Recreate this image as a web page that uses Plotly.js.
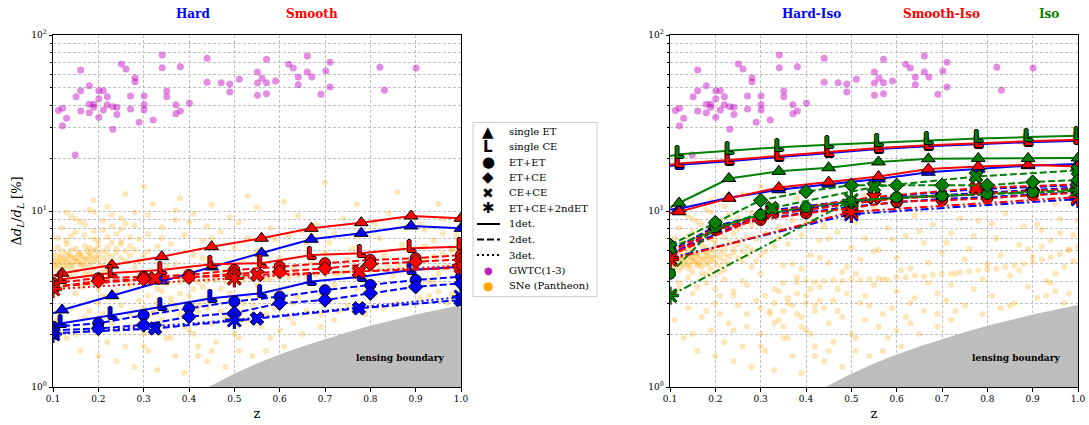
<!DOCTYPE html>
<html><head><meta charset="utf-8">
<script src="https://cdn.plot.ly/plotly-3.0.1.min.js"></script>
<style>html,body{margin:0;padding:0;background:#fff}</style>
</head><body><div id="chart" style="width:1089px;height:425px"></div>
<script>
// ---------------- DATA ----------------
const zSingle = [0.1, 0.12, 0.23, 0.34, 0.45, 0.56, 0.67, 0.78, 0.89, 1.0];
const zPair   = [0.1, 0.2, 0.3, 0.4, 0.5, 0.6, 0.7, 0.8, 0.9, 1.0];
const zCECE   = [0.1, 0.325, 0.55, 0.775, 1.0];
const zTriple = [0.1, 0.5, 1.0];
const xTickText = ['0.1','0.2','0.3','0.4','0.5','0.6','0.7','0.8','0.9','1.0'];

// Hard (left, blue)
const hardET = [2.62, 2.74, 3.30, 4.00, 4.81, 5.77, 6.91, 7.47, 8.22, 7.97];
const hardCE = [2.20, 2.30, 2.56, 2.86, 3.19, 3.41, 3.97, 4.23, 4.62, 4.83];
const hardEE = [2.20, 2.30, 2.56, 2.80, 3.06, 3.26, 3.55, 3.80, 4.06, 4.23];
const hardEC = [2.10, 2.15, 2.25, 2.51, 2.63, 2.99, 3.12, 3.41, 3.71, 3.88];
const hardCC = [2.02, 2.15, 2.45, 2.80, 3.12];
const hardT3 = [2.00, 2.40, 3.25];
// Smooth (left, red)
const smoothET = [4.30, 4.43, 4.93, 5.50, 6.27, 7.00, 7.97, 8.58, 9.37, 9.09];
const smoothCE = [3.95, 4.10, 4.44, 4.62, 4.98, 5.05, 5.62, 5.75, 6.14, 6.27];
const smoothEE = [3.90, 4.15, 4.23, 4.33, 4.62, 4.83, 5.05, 5.27, 5.39, 5.62];
const smoothEC = [3.70, 4.00, 4.10, 4.20, 4.40, 4.52, 4.72, 5.00, 5.15, 5.30];
const smoothCC = [3.70, 4.15, 4.33, 4.52, 4.75];
const smoothT3 = [3.60, 4.15, 4.90];
// Hard-Iso (right, blue)
const hardIsoET = [10.2, 10.3, 11.9, 13.2, 14.2, 15.2, 16.6, 17.3, 18.1, 18.5];
const hardIsoCE = [18.0, 18.3, 19.2, 20.2, 21.3, 22.5, 23.3, 24.0, 24.6, 25.1];
const hardIsoEE = [5.6, 7.9, 9.0, 9.8, 10.6, 11.2, 11.7, 12.0, 12.4, 12.8];
const hardIsoEC = [5.9, 8.2, 9.5, 10.3, 11.2, 11.9, 12.3, 12.8, 13.2, 13.6];
const hardIsoCC = [5.7, 10.1, 11.9, 13.3, 14.0];
const hardIsoT3 = [5.4, 9.6, 11.7];
// Smooth-Iso (right, red)
const smoothIsoET = [9.7, 9.9, 11.8, 13.6, 14.6, 15.7, 17.3, 17.9, 18.3, 17.9];
const smoothIsoCE = [18.3, 18.6, 19.5, 20.5, 21.6, 22.8, 23.6, 24.3, 24.9, 25.4];
const smoothIsoEE = [5.5, 7.8, 8.9, 9.7, 10.4, 11.3, 11.5, 11.8, 12.3, 12.7];
const smoothIsoEC = [5.8, 8.0, 9.3, 10.1, 11.0, 11.8, 12.1, 12.6, 13.0, 13.4];
const smoothIsoCC = [5.6, 9.9, 12.0, 13.5, 14.2];
const smoothIsoT3 = [5.3, 9.9, 12.0];
// Iso (right, green)
const isoET = [10.5, 11.1, 15.3, 16.8, 17.6, 19.0, 19.8, 19.9, 19.9, 20.0];
const isoCE = [20.5, 21.0, 22.0, 23.0, 23.8, 24.5, 25.2, 25.8, 26.3, 26.8];
const isoEE = [4.4, 8.1, 9.5, 10.5, 11.3, 12.0, 12.2, 12.5, 12.8, 13.0];
const isoEC = [6.4, 8.6, 11.5, 12.9, 14.0, 14.0, 14.0, 14.0, 14.6, 15.0];
const isoCC = [6.2, 10.4, 13.7, 15.7, 17.0];
const isoT3 = [3.3, 11.5, 13.2];

// lensing boundary
const lensZ   = [0.44, 0.45, 0.50, 0.55, 0.60, 0.65, 0.70, 0.75, 0.80, 0.85, 0.90, 0.95, 1.00];
const lensErr = [0.99, 1.02, 1.19, 1.36, 1.53, 1.70, 1.87, 2.05, 2.23, 2.40, 2.58, 2.75, 2.92];

// GWTC(1-3)
const gwZ = [0.112,0.121,0.121,0.130,0.151,0.161,0.161,0.161,0.180,0.180,
             0.180,0.190,0.190,0.201,0.201,0.201,0.211,0.211,0.220,0.220,
             0.232,0.232,0.241,0.241,0.251,0.261,0.271,0.271,0.281,0.281,
             0.290,0.301,0.301,0.301,0.321,0.341,0.341,0.351,0.351,0.371,
             0.371,0.381,0.381,0.401,0.440,0.440,0.471,0.490,0.490,0.511,
             0.551,0.551,0.551,0.561,0.571,0.571,0.571,0.591,0.620,0.630,
             0.641,0.641,0.661,0.661,0.671,0.691,0.702,0.711,0.711,0.821,
             0.831,0.901,0.149];
const gwErr = [37.2,38.3,30.5,33.6,44.6,63.2,48.3,37.0,51.5,40.4,
               36.2,40.4,38.8,48.3,43.5,34.1,48.3,37.5,44.6,40.2,
               39.1,29.1,38.8,35.3,68.4,64.1,45.0,38.0,57.2,54.3,
               31.9,45.0,40.2,37.5,32.9,76.9,65.2,48.1,44.6,40.2,
               35.7,66.0,37.0,40.9,73.7,53.9,53.6,52.7,47.4,56.0,
               61.6,53.4,45.4,56.7,72.8,53.6,46.4,54.8,68.2,64.9,
               57.7,52.2,76.0,61.6,57.7,46.0,62.4,70.0,50.6,65.5,
               48.5,64.9,20.8];

// SNe (Pantheon) - groups
const snBandZ = [0.10,0.10,0.11,0.11,0.11,0.12,0.12,0.12,0.13,0.13,
                 0.13,0.14,0.14,0.14,0.15,0.15,0.15,0.16,0.16,0.16,
                 0.17,0.17,0.17,0.18,0.18,0.18,0.19,0.19,0.19,0.20,
                 0.20,0.20,0.21,0.21,0.21,0.22,0.22,0.22,0.23,0.23,
                 0.23,0.24,0.24,0.25,0.25,0.26,0.26,0.27,0.27,0.28,
                 0.10,0.12,0.14,0.16,0.18,0.20,0.22,0.24,0.13,0.15,
                 0.17,0.19,0.21,0.11,0.10,
                 0.105,0.115,0.125,0.135,0.145,0.155,0.165,0.175,0.185,0.195,
                 0.105,0.115,0.125,0.135,0.145,0.155,0.165,0.175,0.185,0.195];
const snBandErr = [5.0,5.4,4.8,5.6,5.2,4.6,5.1,5.9,5.3,4.9,
                   5.7,5.0,5.5,4.7,5.2,6.1,5.4,4.9,5.6,5.1,
                   5.3,6.3,4.8,5.5,5.0,5.8,5.3,6.0,4.7,5.6,
                   5.1,6.4,5.4,5.9,4.9,5.7,6.2,5.2,5.5,6.6,
                   5.0,5.8,6.1,5.4,6.5,5.9,5.2,6.3,5.6,6.0,
                   4.6,5.5,6.0,5.8,6.2,6.8,7.1,7.4,6.5,4.5,
                   4.4,4.3,4.5,6.2,5.8,
                   5.2,5.0,5.3,5.1,5.4,5.2,5.5,5.3,5.6,5.4,
                   4.9,5.4,4.8,5.6,4.9,5.7,5.0,5.9,5.1,6.0];
const snLowZ = [0.10,0.11,0.12,0.12,0.13,0.14,0.14,0.15,0.15,0.16,
                0.17,0.17,0.18,0.18,0.19,0.19,0.20,0.20,0.21,0.21,
                0.22,0.22,0.23,0.23,0.24,0.24,0.25,0.25,0.26,0.26,
                0.27,0.27,0.28,0.28,0.29,0.29,0.30,0.30,0.31,0.31,
                0.32,0.32,0.33,0.33,0.34,0.34,0.35,0.35];
const snLowErr = [3.2,2.4,8.0,3.6,1.9,7.2,2.8,9.0,3.4,1.6,
                  8.4,2.5,3.9,10.2,2.1,7.7,1.5,3.0,8.8,2.6,
                  1.8,4.1,9.5,2.3,3.5,1.4,7.9,2.9,1.7,8.5,
                  3.8,2.2,1.3,9.8,3.1,6.9,2.0,4.4,7.4,1.6,
                  2.7,11.0,3.6,1.25,8.1,2.4,4.9,1.9];
const snMidZ = [0.36,0.36,0.37,0.37,0.38,0.38,0.39,0.39,0.40,0.40,
                0.41,0.41,0.42,0.42,0.43,0.43,0.44,0.44,0.45,0.45,
                0.46,0.46,0.47,0.47,0.48,0.48,0.49,0.49,0.50,0.50,
                0.51,0.51,0.52,0.52,0.53,0.53,0.54,0.55,0.55,0.56,
                0.56,0.57,0.58,0.58,0.59,0.60,0.60,0.61,0.62,0.62,
                0.63,0.64,0.64,0.65,0.66,0.67,0.67,0.68,0.69,0.70];
const snMidErr = [3.0,6.5,1.5,8.9,2.6,4.2,1.2,7.3,3.3,2.1,
                  5.6,9.6,1.7,2.9,6.8,3.7,1.4,8.2,2.3,5.1,
                  3.1,1.8,7.6,2.7,4.5,1.3,9.2,3.4,2.0,6.2,
                  1.6,8.6,3.0,5.3,2.4,7.0,1.5,3.8,10.5,2.2,
                  6.0,4.1,1.9,8.0,2.8,5.4,3.5,1.7,7.2,2.5,
                  4.7,9.4,3.2,2.0,6.6,3.9,1.6,8.4,2.6,5.8];
const snHighZ = [0.71,0.72,0.72,0.73,0.74,0.75,0.76,0.77,0.78,0.79,
                 0.80,0.81,0.82,0.83,0.84,0.85,0.86,0.87,0.88,0.89,
                 0.90,0.91,0.92,0.93,0.94,0.95,0.96,0.97,0.98,0.99];
const snHighErr = [3.1,7.5,2.4,4.4,9.1,2.9,6.1,3.6,8.8,2.6,
                   5.0,3.3,7.0,2.8,9.7,4.3,3.0,6.4,8.2,3.7,
                   5.5,3.2,7.8,4.0,6.8,3.5,9.0,4.8,6.0,7.3];
const snStreakZ = [0.35,0.38,0.40,0.42,0.44,0.46,0.48,0.50,0.52,0.54,0.56,0.58,0.60,0.62,0.64,0.66,
                   0.68,0.70,0.72,0.74,0.76,0.78,0.80,0.82,0.84,0.86,0.88,0.90,0.92,0.94,0.96,0.98,1.0];
const snStreakErr = [3.9,3.95,4.0,3.95,4.0,4.05,4.0,4.1,4.05,4.1,4.15,4.1,4.2,4.2,4.3,4.25,
                     4.35,4.4,4.4,4.5,4.55,4.6,4.65,4.7,4.8,4.9,5.0,5.15,5.3,5.5,5.7,6.0,6.3];
const snTopZ = [0.13,0.19,0.26,0.30,0.38,0.45,0.53,0.61,0.70,0.77,0.86,0.95];
const snTopErr = [9.8,11.5,12.5,13.8,11.8,10.8,12.2,11.3,14.5,10.9,12.8,11.0];
const snClusterZ = [0.30,0.31,0.32,0.33,0.34,0.35,0.36,0.37,0.38,0.39,0.40,0.41,0.42,0.43,0.44];
const snClusterErr = [2.8,3.3,2.6,3.0,3.5,2.7,3.2,2.9,3.4,2.5,3.0,3.6,2.7,3.1,2.8];
const snSpreadZ = [0.11,0.13,0.15,0.17,0.19,0.21,0.23,0.25,0.27,0.29,
                   0.12,0.14,0.16,0.18,0.20,0.22,0.24,0.26,0.28,0.30,
                   0.31,0.33,0.35,0.37,0.39,0.41,0.43,0.45,0.47,0.49,
                   0.51,0.53,0.55,0.57,0.59,0.61,0.63,0.65,0.67,0.69,
                   0.71,0.73,0.75,0.77,0.79,0.81,0.83,0.85,0.87,0.89,
                   0.91,0.93,0.95,0.97,0.99,0.92,0.94,0.96,0.98,1.00,
                   0.15,0.18,0.21,0.24,0.27,0.30,0.33,0.36,0.39,0.42,
                   0.45,0.48,0.51,0.54,0.57,0.60,0.63,0.66,0.69,0.72,
                   0.14,0.16,0.19,0.22,0.25,0.28,0.31,0.34,0.37,0.40];
const snSpreadErr = [7.0,6.8,7.6,7.3,6.9,7.8,8.2,6.7,7.1,5.2,
                     3.9,4.2,3.7,4.4,3.6,4.6,3.3,4.0,4.8,5.6,
                     5.9,6.3,2.2,5.0,4.7,2.0,5.4,7.0,3.6,4.8,
                     4.4,3.3,5.9,2.6,6.9,4.6,3.0,7.7,5.1,3.4,
                     6.6,2.7,5.3,7.2,4.1,8.5,5.6,2.9,4.6,6.1,
                     8.4,3.3,4.4,3.0,5.2,6.3,3.9,7.5,3.4,8.8,
                     2.0,2.7,3.3,2.1,2.6,1.7,2.3,1.9,2.2,1.5,
                     1.6,2.5,1.9,2.9,1.6,2.1,2.3,2.7,2.2,3.8,
                     9.3,8.7,9.9,10.6,9.1,8.3,9.5,7.0,10.1,8.6];

const snZ = [].concat(snBandZ, snLowZ, snMidZ, snHighZ, snStreakZ, snTopZ, snClusterZ, snSpreadZ);
const snErr = [].concat(snBandErr, snLowErr, snMidErr, snHighErr, snStreakErr, snTopErr, snClusterErr, snSpreadErr);

const legendLabels = ['single ET','single CE','ET+ET','ET+CE','CE+CE','ET+CE+2ndET','1det.','2det.','3det.','GWTC(1-3)','SNe (Pantheon)'];

// ---------------- DRAWING ----------------
const BLUE = '#0000ff', RED = '#ff0000', GREEN = '#008000';
const traces = [];
function ax(p){ return p === 1 ? {xaxis:'x', yaxis:'y'} : {xaxis:'x2', yaxis:'y2'}; }

function addBackground(p){
  traces.push(Object.assign({type:'scatter', mode:'markers', x:snZ, y:snErr,
    marker:{color:'#ffa500', opacity:0.28, size:6}, hoverinfo:'skip'}, ax(p)));
  traces.push(Object.assign({type:'scatter', mode:'lines',
    x:lensZ.concat([1.0, lensZ[0]]), y:lensErr.concat([0.5, 0.5]),
    fill:'toself', fillcolor:'#bdbdbd', line:{width:0, color:'#bdbdbd'}, hoverinfo:'skip'}, ax(p)));
  traces.push(Object.assign({type:'scatter', mode:'markers', x:gwZ, y:gwErr,
    marker:{color:'#bf00bf', opacity:0.45, size:7}, hoverinfo:'skip'}, ax(p)));
}

function addSeries(p, color, d, tripleDash){
  const a = ax(p), lw = 2;
  const dash2 = '7px,3px';
  traces.push(Object.assign({type:'scatter', mode:'lines', x:zSingle, y:d.ET, line:{color:color, width:lw}}, a));
  traces.push(Object.assign({type:'scatter', mode:'markers', x:zSingle.slice(1), y:d.ET.slice(1),
    marker:{symbol:'triangle-up', size:12, color:color, line:{color:'black', width:1}}}, a));
  traces.push(Object.assign({type:'scatter', mode:'lines', x:zSingle, y:d.CE, line:{color:color, width:lw}}, a));
  traces.push(Object.assign({type:'scatter', mode:'text', x:zSingle.slice(1), y:d.CE.slice(1),
    text:zSingle.slice(1).map(function(){return '<b>L</b>';}), textposition:'middle center',
    textfont:{family:'DejaVu Sans', size:15, color:color,
      shadow:'1px 0 0 #000, -1px 0 0 #000, 0 1px 0 #000, 0 -1px 0 #000'}}, a));
  traces.push(Object.assign({type:'scatter', mode:'lines+markers', x:zPair, y:d.EE,
    line:{color:color, width:lw, dash:dash2},
    marker:{symbol:'circle', size:11, color:color, line:{color:'black', width:1}}}, a));
  traces.push(Object.assign({type:'scatter', mode:'lines+markers', x:zPair, y:d.EC,
    line:{color:color, width:lw, dash:dash2},
    marker:{symbol:'diamond', size:11, color:color, line:{color:'black', width:1}}}, a));
  traces.push(Object.assign({type:'scatter', mode:'lines+markers', x:zCECE, y:d.CC,
    line:{color:color, width:lw, dash:dash2},
    marker:{symbol:'x', size:12, color:color, line:{color:'black', width:1}}}, a));
  traces.push(Object.assign({type:'scatter', mode:'lines', x:zTriple, y:d.T3,
    line:{color:color, width:lw, dash:tripleDash}}, a));
  traces.push(Object.assign({type:'scatter', mode:'markers', x:zTriple, y:d.T3,
    marker:{symbol:'asterisk', size:15, color:'black', line:{color:'black', width:3}}}, a));
  traces.push(Object.assign({type:'scatter', mode:'markers', x:zTriple, y:d.T3,
    marker:{symbol:'asterisk', size:15, color:color, line:{color:color, width:2}}}, a));
}

addBackground(1);
addBackground(2);
const dotted = '2px,3px', dashdot = '8px,3px,2px,3px';
addSeries(1, BLUE, {ET:hardET, CE:hardCE, EE:hardEE, EC:hardEC, CC:hardCC, T3:hardT3}, dotted);
addSeries(1, RED, {ET:smoothET, CE:smoothCE, EE:smoothEE, EC:smoothEC, CC:smoothCC, T3:smoothT3}, dotted);
addSeries(2, BLUE, {ET:hardIsoET, CE:hardIsoCE, EE:hardIsoEE, EC:hardIsoEC, CC:hardIsoCC, T3:hardIsoT3}, dashdot);
addSeries(2, RED, {ET:smoothIsoET, CE:smoothIsoCE, EE:smoothIsoEE, EC:smoothIsoEC, CC:smoothIsoCC, T3:smoothIsoT3}, dashdot);
addSeries(2, GREEN, {ET:isoET, CE:isoCE, EE:isoEE, EC:isoEC, CC:isoCC, T3:isoT3}, dashdot);

// ---------------- LAYOUT ----------------
const W = 1089, H = 425, ML = 53, MR = 11, MT = 35, MB = 38;
const PW = W - ML - MR, PH = H - MT - MB;
function px(x){ return (x - ML) / PW; }
function py(y){ return (H - MB - y) / PH; }

const GRID = '#b0b0b0', GDASH = '3px,2px';
const minorVals = [2,3,4,5,6,7,8,9,20,30,40,50,60,70,80,90];
function xAxis(domain, anchor){
  return {domain:domain, anchor:anchor, range:[0.1, 1.0], tickmode:'array', tickvals:zPair, ticktext:xTickText,
    ticks:'outside', ticklen:3.5, tickwidth:1, tickcolor:'black', showline:true, mirror:true,
    linecolor:'black', linewidth:1, showgrid:true, gridcolor:GRID, gridwidth:0.8, griddash:GDASH,
    zeroline:false, automargin:false, tickfont:{size:9},
    title:{text:'z', font:{size:13}, standoff:5}};
}
function yAxis(domain, anchor, withTitle){
  const o = {domain:domain, anchor:anchor, type:'log', range:[0, 2], tickmode:'array', tickvals:[1,10,100],
    ticktext:['10<sup>0</sup>','10<sup>1</sup>','10<sup>2</sup>'],
    ticks:'outside', ticklen:3.5, tickwidth:1, tickcolor:'black', showline:true, mirror:true,
    linecolor:'black', linewidth:1, showgrid:true, gridcolor:GRID, gridwidth:0.8, griddash:GDASH,
    minor:{tickmode:'array', tickvals:minorVals, ticks:'outside', ticklen:2, tickcolor:'black',
      showgrid:true, gridcolor:GRID, gridwidth:0.8, griddash:GDASH},
    zeroline:false, automargin:false, tickfont:{size:9}};
  if (withTitle) o.title = {text:'Δ<i>d</i><sub><i>L</i></sub>/<i>d</i><sub><i>L</i></sub> [%]', font:{size:13}, standoff:6};
  return o;
}

const annotations = [];
function titleAnn(x, text, color){
  annotations.push({xref:'paper', yref:'paper', x:px(x), y:py(14), text:'<b>'+text+'</b>', showarrow:false,
    xanchor:'center', yanchor:'middle', font:{size:12, color:color}});
}
titleAnn(193, 'Hard', BLUE);
titleAnn(312, 'Smooth', RED);
titleAnn(811, 'Hard-Iso', BLUE);
titleAnn(941, 'Smooth-Iso', RED);
titleAnn(1049, 'Iso', GREEN);
[400, 1016].forEach(function(x){
  annotations.push({xref:'paper', yref:'paper', x:px(x), y:py(358), text:'<b>lensing boundary</b>', showarrow:false,
    xanchor:'center', yanchor:'middle', font:{size:9, color:'black'}});
});

// legend (drawn by hand)
const shapes = [];
const LX0 = 473, LX1 = 597, LY0 = 122.5, LY1 = 296.5;
shapes.push({type:'rect', xref:'paper', yref:'paper', x0:px(LX0), x1:px(LX1), y0:py(LY1), y1:py(LY0),
  line:{color:'#cccccc', width:1}, fillcolor:'rgba(255,255,255,0.85)', layer:'above'});
const rowY = [131.7, 146.8, 162.2, 177.4, 192.7, 208.4, 224.0, 239.4, 255.0, 270.5, 285.8];
const symX = 488, txtX = 507;
const legendSyms = [
  {t:'▲', s:15, c:'black'}, {t:'<b>L</b>', s:15, c:'black'}, {t:'●', s:15, c:'black'},
  {t:'◆', s:15, c:'black'}, {t:'✖', s:14, c:'black'}, {t:'✱', s:15, c:'black'},
  null, null, null, {t:'●', s:10, c:'#c020c0'}, {t:'●', s:12, c:'#ffa500'}];
legendLabels.forEach(function(lab, i){
  annotations.push({xref:'paper', yref:'paper', x:px(txtX), y:py(rowY[i]), text:lab, showarrow:false,
    xanchor:'left', yanchor:'middle', font:{size:10, color:'black'}});
  const s = legendSyms[i];
  if (s) annotations.push({xref:'paper', yref:'paper', x:px(symX), y:py(rowY[i]), text:s.t, showarrow:false,
    xanchor:'center', yanchor:'middle', font:{family:'DejaVu Sans', size:s.s, color:s.c}});
});
[['solid',6],['7px,3px',7],['2px,3px',8]].forEach(function(d){
  shapes.push({type:'line', xref:'paper', yref:'paper', x0:px(477), x1:px(500), y0:py(rowY[d[1]]), y1:py(rowY[d[1]]),
    line:{color:'black', width:2, dash:d[0]}, layer:'above'});
});

const layout = {
  width:W, height:H, margin:{l:ML, r:MR, t:MT, b:MB, pad:0},
  paper_bgcolor:'white', plot_bgcolor:'white', showlegend:false,
  font:{family:'DejaVu Serif', size:10, color:'black'},
  xaxis:xAxis([0, px(461)], 'y'), yaxis:yAxis([0,1], 'x', true),
  xaxis2:xAxis([px(670), 1], 'y2'), yaxis2:yAxis([0,1], 'x2', false),
  annotations:annotations, shapes:shapes, hovermode:false
};

Plotly.newPlot('chart', traces, layout, {staticPlot:true, displayModeBar:false});
</script></body></html>
